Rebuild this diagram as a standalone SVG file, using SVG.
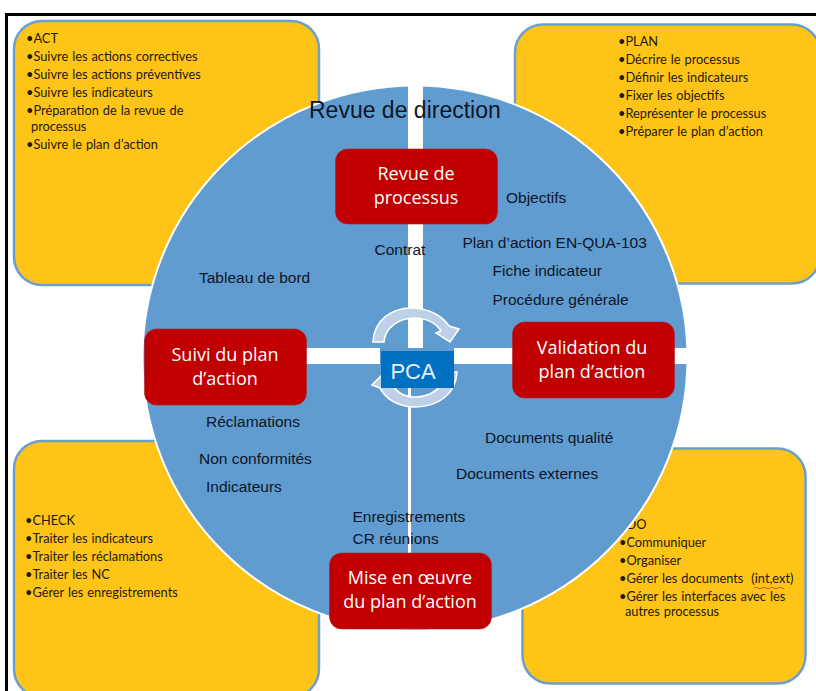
<svg xmlns="http://www.w3.org/2000/svg" width="816" height="691" viewBox="0 0 816 691">
<style>
.box{fill:#ffc418;stroke:#6a9fd0;stroke-width:2.5}
.b{font:12.8px Lato,"Noto Sans",sans-serif;fill:#1d1a08;word-spacing:.7px}
.a{font:15.5px "Liberation Sans",Arial,sans-serif;fill:#0c1626}
.r{fill:#c00000;stroke:#b02030;stroke-width:.6}
.w{font:18px "Open Sans","Noto Sans",sans-serif;fill:#fff;text-anchor:middle}
.arc{fill:#bdd0e7;stroke:#fff;stroke-width:1.6}
</style>
<rect width="816" height="691" fill="#fff"/>
<path d="M6.500 691V14.500H816" fill="none" stroke="#000" stroke-width="3"/>
<g id="act"><rect class="box" x="14" y="21" width="305" height="264" rx="28"/>
<g class="b"><text x="26" y="43">•ACT</text><text x="26" y="61">•Suivre les actions correctives</text><text x="26" y="79">•Suivre les actions préventives</text><text x="26" y="97">•Suivre les indicateurs</text><text x="26" y="115">•Préparation  de la revue de</text><text x="31" y="131">processus</text><text x="26" y="149">•Suivre le plan d’action</text></g></g>
<g id="plan"><rect class="box" x="515" y="24.500" width="305" height="259" rx="28"/>
<g class="b"><text x="618" y="46">•PLAN</text><text x="618" y="64">•Décrire le processus</text><text x="618" y="82">•Définir les indicateurs</text><text x="618" y="100">•Fixer les objectifs</text><text x="618" y="118">•Représenter le processus</text><text x="618" y="136">•Préparer le plan d’action</text></g></g>
<g id="check"><rect class="box" x="14" y="441" width="305" height="256" rx="28"/>
<g class="b"><text x="25" y="525">•CHECK</text><text x="25" y="543">•Traiter  les indicateurs</text><text x="25" y="561">•Traiter les réclamations</text><text x="25" y="579">•Traiter les NC</text><text x="25" y="597">•Gérer les enregistrements</text></g></g>
<g id="do"><rect class="box" x="522.500" y="448.500" width="283" height="235" rx="28"/>
<g class="b"><text x="619" y="529">•DO</text><text x="619" y="547">•Communiquer</text><text x="619" y="565">•Organiser</text><text x="619" y="583" xml:space="preserve">•Gérer les documents  (int,ext)</text><text x="619" y="601">•Gérer les interfaces avec les</text><text x="625" y="616">autres processus</text></g>
<path d="M754 588q2-1.500 4 0t4 0 4 0 4 0 4 0 4 0 4 0 2 0" fill="none" stroke="#d33" stroke-width=".8"/></g>
<g id="cycle">
<circle cx="415" cy="358" r="272.500" fill="#619cd0" stroke="#fff" stroke-width="2"/>
<path d="M408 85h15v263h-15zM411 364v265h-3V364z" fill="#fff"/>
<path d="M300 348h80v16h-80zM454 348h234v16H454z" fill="#fff"/>
</g>
<g id="title"><text x="309" y="118" font-family="Liberation Sans,Arial,sans-serif" font-size="23" fill="#0c1626">Revue de direction</text></g>
<g class="a">
<text x="506" y="203">Objectifs</text><text x="374.500" y="255">Contrat</text><text x="462.500" y="248">Plan d’action EN-QUA-103</text><text x="492.500" y="276">Fiche indicateur</text><text x="492.500" y="305">Procédure générale</text><text x="199" y="283">Tableau de bord</text><text x="206" y="427">Réclamations</text><text x="199" y="464">Non conformités</text><text x="206" y="492">Indicateurs</text><text x="352.500" y="522">Enregistrements</text><text x="352.500" y="544">CR réunions</text><text x="485" y="443">Documents qualité</text><text x="456" y="479">Documents externes</text>
</g>
<g id="n-revue"><rect class="r" x="335.500" y="149" width="162" height="75" rx="12"/><text class="w" x="416" y="180">Revue de</text><text class="w" x="416" y="204">processus</text></g>
<g id="n-valid"><rect class="r" x="512.500" y="322" width="162" height="76" rx="12"/><text class="w" x="592" y="354">Validation du</text><text class="w" x="592" y="378">plan d’action</text></g>
<g id="n-suivi"><rect class="r" x="144.500" y="329" width="162" height="76" rx="12"/><text class="w" x="225" y="361">Suivi du plan</text><text class="w" x="225" y="385">d’action</text></g>
<g id="n-mise"><rect class="r" x="329.500" y="553" width="162" height="76" rx="12"/><text class="w" x="410" y="584">Mise en œuvre</text><text class="w" x="410" y="608">du plan d’action</text></g>
<g id="pca-arrows">
<path class="arc" d="M373 342C374 320 392 307 414 308C431 309 443 317 449 326L459 329L450 342L436 333L441 331C436 323 426 318 414 318C400 318 385 327 384 342Z"/>
<path class="arc" d="M457 372C456 394 438 407 415 407C398 407 386 399 380 388L372 385L385 372L397 381L391 383C396 392 404 397 415 397C430 397 445 388 446 372Z"/>
</g>
<g id="pca"><rect x="381" y="351" width="73" height="37" fill="#0070c0"/><text x="413" y="379" font-family="Liberation Sans,Arial,sans-serif" font-size="22" fill="#e8f1f9" text-anchor="middle">PCA</text></g>
</svg>
